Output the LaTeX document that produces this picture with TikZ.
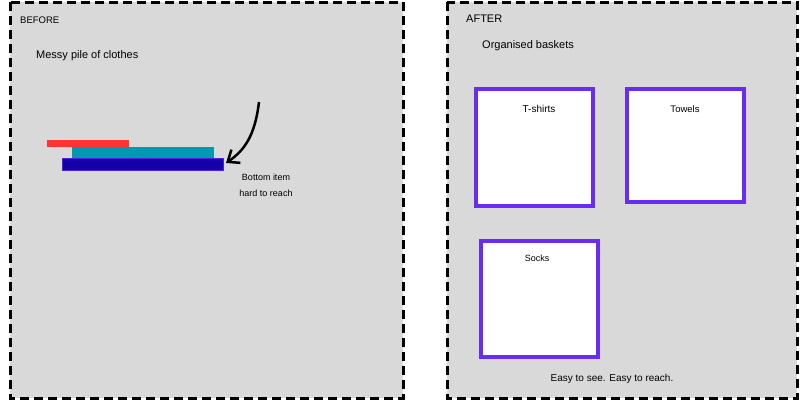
\documentclass[tikz,border=0pt]{standalone}
\usepackage{fontspec}
\setmainfont{Liberation Sans}
\usetikzlibrary{arrows.meta}
\definecolor{panelgray}{HTML}{D9D9D9}
\definecolor{basketblue}{HTML}{6A2CF5}
\definecolor{clothred}{HTML}{FF3333}
\definecolor{clothteal}{HTML}{0099B3}
\definecolor{clothnavy}{HTML}{1400A8}
\tikzset{
  panel/.style={fill=panelgray, draw=black, line width=3pt, dash pattern=on 9pt off 5pt},
  basket/.style={fill=white, draw=basketblue, line width=3.5pt},
  lbl/.style={font=\fontsize{10}{12}\selectfont, inner sep=0pt}
}
\begin{document}
\begin{tikzpicture}[x=1pt,y=-1pt]
    \useasboundingbox (0,0) rectangle (800,400) ;
    % panels
    \draw[panel] (10,2) rectangle (403,398) ;
    \draw[panel] (447,2) rectangle (797,398) ;
    \node[lbl, anchor=west, font=\fontsize{9.5}{11}\selectfont] (before) at (20,20) {BEFORE} ;
    \node[lbl, anchor=west, font=\fontsize{11}{13}\selectfont] (after) at (466,19) {AFTER} ;
    \node[lbl, anchor=west, font=\fontsize{11}{13}\selectfont] (messy) at (36,56) {Messy pile of clothes} ;
    \node[lbl, anchor=west, font=\fontsize{11}{13}\selectfont] (organised) at (482,46) {Organised baskets} ;
    % pile
    \fill[clothred] (47,140) rectangle (129,147) ;
    \fill[clothteal] (72,147) rectangle (214,158) ;
    \draw[fill=clothnavy, draw=basketblue!70!clothnavy] (62,158) rectangle (223,170) coordinate (bottom) ;
    \coordinate (tail) at (259,102) ;
    \draw[line width=2.5pt, -{Straight Barb[length=10pt,width=16pt]}] (tail) .. controls (255,135) and (245,150) .. (226,163) ;
    \node[lbl, align=center, font=\fontsize{9}{16}\selectfont] (hard) at (266,185) {Bottom item\\hard to reach} ;
    % baskets
    \draw[basket] (476,89) rectangle (593,206) ;
    \draw[basket] (627,89) rectangle (744,202) ;
    \draw[basket] (481,241) rectangle (598,357) ;
    \node[lbl] (tshirts) at (539,109) {T-shirts} ;
    \node[lbl, font=\fontsize{9.5}{11}\selectfont] (towels) at (685,109) {Towels} ;
    \node[lbl, font=\fontsize{9}{11}\selectfont] (socks) at (537,258) {Socks} ;
    \node[lbl] (easy) at (612,379) {Easy to see. Easy to reach.} ;
\end{tikzpicture}
\end{document}
